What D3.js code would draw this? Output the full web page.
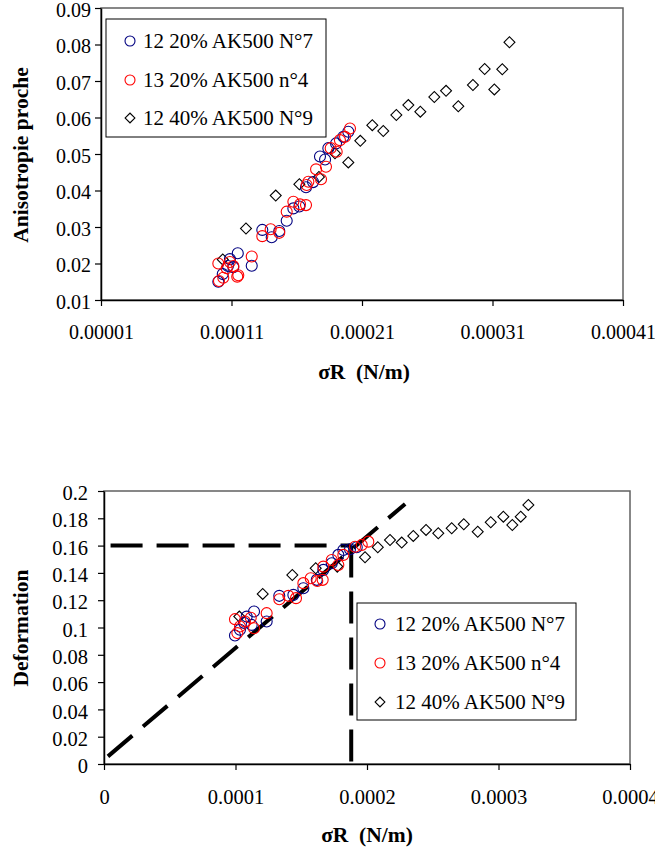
<!DOCTYPE html>
<html><head><meta charset="utf-8">
<script src="https://cdn.jsdelivr.net/npm/d3@7"></script>
<style>body{margin:0;background:#fff}svg{display:block}text{font-family:"Liberation Serif","Times New Roman",serif;fill:#000}</style>
</head><body>
<svg id="c" width="655" height="850"></svg>
<script>
// ---------- DATA ----------
const seriesNames = ["12 20% AK500 N°7", "13 20% AK500 n°4", "12 40% AK500 N°9"];
const topXTicks = [0.00001, 0.00011, 0.00021, 0.00031, 0.00041];
const topYTicks = [0.01,0.02,0.03,0.04,0.05,0.06,0.07,0.08,0.09];
const botXTicks = [0, 0.0001, 0.0002, 0.0003, 0.0004];
const botYTicks = [0,0.02,0.04,0.06,0.08,0.1,0.12,0.14,0.16,0.18,0.2];

// Top: Anisotropie proche vs sigmaR
const topBlue = [[0.0000999,0.0150],[0.0001033,0.0171],[0.0001088,0.0212],[0.0001148,0.0228],[0.0001114,0.0190],[0.0001073,0.0193],[0.0001255,0.0194],[0.0001336,0.0292],[0.0001408,0.0272],[0.0001466,0.0289],[0.0001523,0.0317],[0.0001574,0.0351],[0.0001620,0.0356],[0.0001671,0.0409],[0.0001725,0.0423],[0.0001778,0.0493],[0.0001817,0.0485],[0.0001842,0.0516],[0.0001901,0.0529],[0.0001957,0.0547],[0.0001995,0.0561]];
const topRed = [[0.0000999,0.0200],[0.0001004,0.0152],[0.0001037,0.0161],[0.0001063,0.0187],[0.0001114,0.0193],[0.0001088,0.0204],[0.0001152,0.0168],[0.0001144,0.0164],[0.0001255,0.0219],[0.0001336,0.0275],[0.0001400,0.0294],[0.0001466,0.0284],[0.0001523,0.0342],[0.0001574,0.0369],[0.0001625,0.0362],[0.0001671,0.0360],[0.0001676,0.0415],[0.0001689,0.0424],[0.0001748,0.0458],[0.0001786,0.0431],[0.0001824,0.0465],[0.0001860,0.0516],[0.0001906,0.0506],[0.0001931,0.0538],[0.0001970,0.0547],[0.0002008,0.0570]];
const topBlack = [[0.0003230,0.0806],[0.0003040,0.0733],[0.0003175,0.0732],[0.0002950,0.0689],[0.0003114,0.0677],[0.0002744,0.0673],[0.0002654,0.0656],[0.0002838,0.0631],[0.0002455,0.0634],[0.0002547,0.0616],[0.0002363,0.0607],[0.0002179,0.0579],[0.0002263,0.0563],[0.0002087,0.0536],[0.0001893,0.0502],[0.0001995,0.0477],[0.0001770,0.0437],[0.0001620,0.0417],[0.0001439,0.0386],[0.0001211,0.0296],[0.0001033,0.0211]];

// Bottom: Deformation vs sigmaR
const botBlue = [[0.0000996,0.0941],[0.0001034,0.0983],[0.0001085,0.1080],[0.0001141,0.1117],[0.0001123,0.1019],[0.0001065,0.1034],[0.0001237,0.1044],[0.0001333,0.1232],[0.0001440,0.1239],[0.0001516,0.1288],[0.0001618,0.1349],[0.0001668,0.1422],[0.0001732,0.1471],[0.0001782,0.1532],[0.0001820,0.1568],[0.0001871,0.1573],[0.0001922,0.1588]];
const botRed = [[0.0000996,0.1061],[0.0001014,0.0959],[0.0001034,0.1007],[0.0001072,0.1044],[0.0001116,0.1071],[0.0001141,0.0995],[0.0001237,0.1105],[0.0001333,0.1207],[0.0001402,0.1232],[0.0001460,0.1215],[0.0001516,0.1325],[0.0001572,0.1361],[0.0001622,0.1341],[0.0001663,0.1349],[0.0001668,0.1446],[0.0001732,0.1495],[0.0001782,0.1458],[0.0001820,0.1532],[0.0001909,0.1592],[0.0001960,0.1605],[0.0002010,0.1629]];
const botBlack = [[0.0003227,0.1898],[0.0003169,0.1812],[0.0003105,0.1751],[0.0003037,0.1812],[0.0002941,0.1771],[0.0002842,0.1702],[0.0002736,0.1756],[0.0002644,0.1727],[0.0002542,0.1690],[0.0002449,0.1715],[0.0002352,0.1671],[0.0002264,0.1622],[0.0002175,0.1641],[0.0002082,0.1588],[0.0001985,0.1515],[0.0001774,0.1446],[0.0001610,0.1434],[0.0001432,0.1385],[0.0001207,0.1246],[0.0001029,0.1080]];

// Reference dashed lines (bottom chart)
const refHorizontal = [[0.000005,0.16],[0.000188,0.16]];
const refVertical = [[0.000188,0.16],[0.000188,0]];
const refDiagonal = [[0.000003,0.0056],[0.000229,0.1905]];

// ---------- DRAW ----------
const svg = d3.select("#c");
const colors = ["#000080","#ff0000","#000000"];
const diamond = d3.symbol().type(d3.symbolSquare).size(60);
const diamondLeg = d3.symbol().type(d3.symbolSquare).size(48);

function chart(cfg){
  const g = svg.append("g");
  const x = d3.scaleLinear().domain(cfg.xd).range([cfg.l, cfg.r]);
  const y = d3.scaleLinear().domain(cfg.yd).range([cfg.b, cfg.t]);
  // frame
  g.append("rect").attr("x",cfg.l).attr("y",cfg.t).attr("width",cfg.r-cfg.l).attr("height",cfg.b-cfg.t)
    .attr("fill","none").attr("stroke","#606060").attr("stroke-width",1.5);
  // axes
  const ax = g.append("g").attr("transform",`translate(0,${cfg.b})`)
    .call(d3.axisBottom(x).tickValues(cfg.xt).tickSize(6).tickSizeOuter(0).tickFormat(cfg.xf));
  const ay = g.append("g").attr("transform",`translate(${cfg.l},0)`)
    .call(d3.axisLeft(y).tickValues(cfg.yt).tickSize(6).tickSizeOuter(0).tickFormat(cfg.yf));
  [ax,ay].forEach(a=>{
    a.select(".domain").attr("stroke","#000").attr("stroke-width",1.5);
    a.selectAll(".tick line").attr("stroke","#000").attr("stroke-width",1.2);
    a.selectAll(".tick text").attr("font-family","Liberation Serif").attr("font-size",cfg.fs).attr("fill","#000");
  });
  ax.selectAll(".tick text").attr("y",cfg.xly).attr("dy","0");
  ay.selectAll(".tick text").attr("x",-cfg.ylx).attr("dy","0.42em");

  // reference lines
  (cfg.refs||[]).forEach(r=>{
    g.append("line").attr("x1",x(r[0][0])).attr("y1",y(r[0][1])).attr("x2",x(r[1][0])).attr("y2",y(r[1][1]))
      .attr("stroke","#000").attr("stroke-width",4).attr("stroke-dasharray","32,14");
  });

  // points
  const [blue,red,black] = cfg.data;
  g.append("g").selectAll("path").data(black).join("path")
    .attr("d",diamond).attr("transform",d=>`translate(${x(d[0])},${y(d[1])}) rotate(45)`)
    .attr("fill","none").attr("stroke","#000").attr("stroke-width",1.1);
  g.append("g").selectAll("circle").data(blue).join("circle")
    .attr("cx",d=>x(d[0])).attr("cy",d=>y(d[1])).attr("r",5.5)
    .attr("fill","none").attr("stroke",colors[0]).attr("stroke-width",1.1);
  g.append("g").selectAll("circle").data(red).join("circle")
    .attr("cx",d=>x(d[0])).attr("cy",d=>y(d[1])).attr("r",5.5)
    .attr("fill","none").attr("stroke",colors[1]).attr("stroke-width",1.1);

  // legend
  const L = cfg.leg;
  const lg = g.append("g");
  lg.append("rect").attr("x",L.x).attr("y",L.y).attr("width",L.w).attr("height",L.h)
    .attr("fill","#fff").attr("stroke","#000").attr("stroke-width",1);
  seriesNames.forEach((n,i)=>{
    const cy = L.rows[i];
    if(i<2){
      lg.append("circle").attr("cx",L.mx).attr("cy",cy).attr("r",5).attr("fill","none")
        .attr("stroke",colors[i]).attr("stroke-width",1.1);
    } else {
      lg.append("path").attr("d",diamondLeg).attr("transform",`translate(${L.mx},${cy}) rotate(45)`)
        .attr("fill","none").attr("stroke","#000").attr("stroke-width",1.1);
    }
    lg.append("text").attr("x",L.tx).attr("y",cy).attr("dy","0.34em").attr("font-size",L.fs).text(n);
  });

  // titles
  g.append("text").attr("x",cfg.xtx).attr("y",cfg.xty).attr("text-anchor","middle")
    .attr("font-weight","bold").attr("font-size",cfg.tfs).text("σR\u00a0\u00a0(N/m)");
  g.append("text").attr("transform",`translate(${cfg.ytx},${cfg.yty}) rotate(-90)`).attr("text-anchor","middle")
    .attr("font-weight","bold").attr("font-size",cfg.tfs).text(cfg.ytitle);
}

const fmtTop = d => d3.format(".5f")(d);
const fmtTopY = d => d3.format(".2f")(d);
chart({
  l:101, r:623, t:8, b:300, xd:[0.00001,0.00041], yd:[0.01,0.09],
  xt:topXTicks, yt:topYTicks, xf:fmtTop, yf:fmtTopY, fs:20, xly:39, ylx:10,
  data:[topBlue,topRed,topBlack],
  leg:{x:106,y:19,w:220,h:118,mx:130,tx:143,rows:[41,80,118],fs:21},
  xtx:364, xty:379, ytx:28, yty:155, tfs:21.5, ytitle:"Anisotropie proche"
});
chart({
  l:104, r:630, t:491, b:764, xd:[0,0.0004], yd:[0,0.2],
  xt:botXTicks, yt:botYTicks,
  xf:d=>d===0?"0":d.toFixed(4).replace(/0+$/,""),
  yf:d=>d===0?"0":d.toFixed(2).replace(/0+$/,""),
  fs:20.5, xly:40, ylx:16,
  data:[botBlue,botRed,botBlack],
  refs:[refHorizontal,refVertical,refDiagonal],
  leg:{x:357,y:603,w:219,h:117,mx:380,tx:395,rows:[624,663,702],fs:21},
  xtx:367, xty:842, ytx:28, yty:628, tfs:21.5, ytitle:"Deformation"
});
</script>
</body></html>
